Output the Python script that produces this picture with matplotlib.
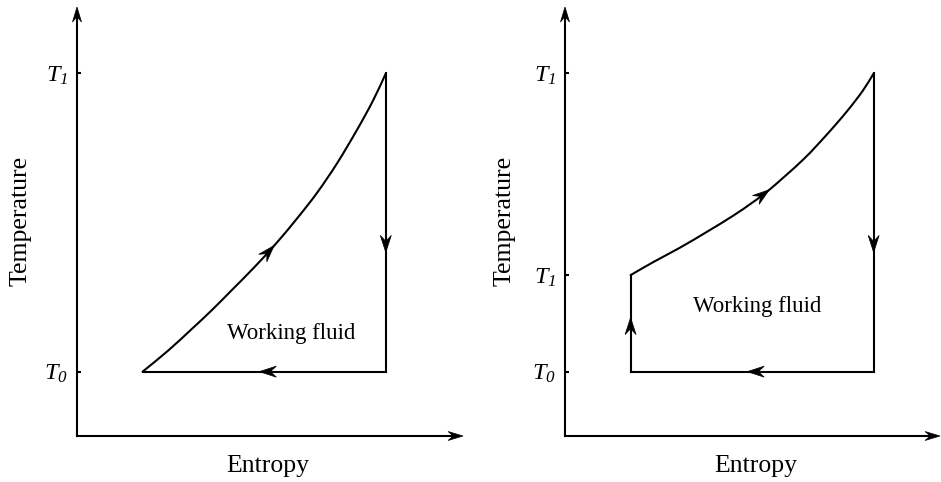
import numpy as np
import matplotlib.pyplot as plt
from matplotlib.patches import Polygon, PathPatch
from matplotlib.path import Path
from matplotlib.transforms import IdentityTransform

plt.rcParams['font.family'] = 'Liberation Serif'
plt.rcParams['mathtext.fontset'] = 'custom'
plt.rcParams['mathtext.it'] = 'Liberation Serif:italic'
plt.rcParams['mathtext.rm'] = 'Liberation Serif'
# \mathit keeps digits upright, so italic digits go through the cal slot
plt.rcParams['mathtext.cal'] = 'Liberation Serif:italic'

# temperature levels (arbitrary units)
T0 = 1.5
T1 = 8.45
T1_low = 3.75

# entropy at the two sides of the cycle
s_min = 1.7
s_max = 8.0

# heat addition curves
s_heat_left = [1.7, 2.36, 2.98, 3.50, 4.02, 4.59, 5.16, 5.70, 6.22, 6.74, 7.25, 7.67, 8.0]
T_heat_left = [1.5, 1.99, 2.50, 2.94, 3.41, 3.93, 4.49, 5.07, 5.67, 6.36, 7.13, 7.82, 8.45]
s_heat_right = [1.7, 2.28, 2.98, 3.68, 4.35, 4.87, 5.31, 6.17, 6.79, 7.31, 7.72, 8.0]
T_heat_right = [3.75, 4.05, 4.39, 4.76, 5.13, 5.45, 5.75, 6.44, 7.03, 7.57, 8.05, 8.45]

left_ticks = [T0, T1]
left_ticklabels = [r'$\mathit{T}_{\mathcal{0}}$', r'$\mathit{T}_{\mathcal{1}}$']
right_ticks = [T0, T1_low, T1]
right_ticklabels = [r'$\mathit{T}_{\mathcal{0}}$', r'$\mathit{T}_{\mathcal{1}}$',
                    r'$\mathit{T}_{\mathcal{1}}$']

W, H = 941, 482
fig = plt.figure(figsize=(W / 100, H / 100), dpi=100)


def head(p, d, L=17, hw=5.5):
    # stealth style arrow head, pixel coords
    u = np.asarray(d, float)
    u = u / np.hypot(*u)
    n = np.array([-u[1], u[0]])
    p = np.asarray(p, float)
    verts = [p, p - L * u + hw * n, p - 0.65 * L * u, p - L * u - hw * n]
    fig.add_artist(Polygon(verts, closed=True, fc='k', ec='k', lw=0.5,
                           transform=IdentityTransform(), zorder=5))


def arrow_on(ax, xs, ys, frac):
    pts = ax.transData.transform(np.column_stack([xs, ys]))
    seg = np.diff(pts, axis=0)
    lens = np.hypot(seg[:, 0], seg[:, 1])
    cum = np.concatenate([[0], np.cumsum(lens)])
    target = frac * cum[-1]
    i = int(np.clip(np.searchsorted(cum, target) - 1, 0, len(seg) - 1))
    t = (target - cum[i]) / lens[i]
    head(pts[i] + t * seg[i], seg[i])


def smooth_curve(ax, xs, ys, lw):
    # catmull-rom through the read points, drawn as bezier pieces
    p = np.column_stack([xs, ys])
    ext = np.vstack([2 * p[0] - p[1], p, 2 * p[-1] - p[-2]])
    verts = [p[0]]
    codes = [Path.MOVETO]
    for i in range(1, len(ext) - 2):
        c1 = ext[i] + (ext[i + 1] - ext[i - 1]) / 6
        c2 = ext[i + 1] - (ext[i + 2] - ext[i]) / 6
        verts += [c1, c2, ext[i + 1]]
        codes += [Path.CURVE4] * 3
    ax.add_patch(PathPatch(Path(verts, codes), fill=False, ec='k', lw=lw,
                           capstyle='round', joinstyle='round'))


def make_axes(x0, x1, xmax, ticks, ticklabels):
    ax = fig.add_axes([x0 / W, (H - 436) / H, (x1 - x0) / W, (436 - 7) / H])
    ax.set_xlim(0, xmax)
    ax.set_ylim(0, 10)
    ax.patch.set_visible(False)
    for side in ['top', 'right']:
        ax.spines[side].set_visible(False)
    for side in ['left', 'bottom']:
        ax.spines[side].set_linewidth(1.5)
    ax.spines['left'].set_bounds(0, 9.8)
    ax.spines['bottom'].set_bounds(0, xmax * 0.98)
    ax.set_xticks([])
    ax.set_yticks(ticks)
    ax.set_yticklabels(ticklabels, fontsize=17.5)
    ax.tick_params(axis='y', direction='in', length=3, width=1.5, pad=6.5)
    head(ax.transAxes.transform((0, 1)), (0, 1), L=15, hw=4.5)
    head(ax.transAxes.transform((1, 0)), (1, 0), L=15, hw=4.5)
    return ax


lw = 1.5

# left: heat addition, expansion, heat rejection
axL = make_axes(77, 463, 10.0, left_ticks, left_ticklabels)
smooth_curve(axL, s_heat_left, T_heat_left, lw)
axL.plot([s_max, s_max], [T1, T0], color='k', lw=lw)
axL.plot([s_max, s_min], [T0, T0], color='k', lw=lw)
arrow_on(axL, s_heat_left, T_heat_left, 0.47)
arrow_on(axL, [s_max, s_max], [T1, T0], 0.60)
arrow_on(axL, [s_max, s_min], [T0, T0], 0.52)
axL.text(5.54, 2.4, 'Working fluid', fontsize=16.5, ha='center', va='center')

# right: compression, heat addition, expansion, heat rejection
axR = make_axes(565, 940, 9.72, right_ticks, right_ticklabels)
axR.plot([s_min, s_min], [T0, T1_low], color='k', lw=lw)
smooth_curve(axR, s_heat_right, T_heat_right, lw)
axR.plot([s_max, s_max], [T1, T0], color='k', lw=lw)
axR.plot([s_max, s_min], [T0, T0], color='k', lw=lw)
arrow_on(axR, [s_min, s_min], [T0, T1_low], 0.56)
arrow_on(axR, s_heat_right, T_heat_right, 0.51)
arrow_on(axR, [s_max, s_max], [T1, T0], 0.60)
arrow_on(axR, [s_max, s_min], [T0, T0], 0.52)
axR.text(4.97, 3.03, 'Working fluid', fontsize=16.5, ha='center', va='center')

fig.text(21 / W, 1 - 221 / H, 'Temperature', fontsize=18.5, rotation=90,
         ha='center', va='center')
fig.text(505 / W, 1 - 221 / H, 'Temperature', fontsize=18.5, rotation=90,
         ha='center', va='center')
fig.text(268 / W, 1 - 466 / H, 'Entropy', fontsize=18.5, ha='center', va='center')
fig.text(756 / W, 1 - 466 / H, 'Entropy', fontsize=18.5, ha='center', va='center')

fig.savefig('out.png', dpi=100)
